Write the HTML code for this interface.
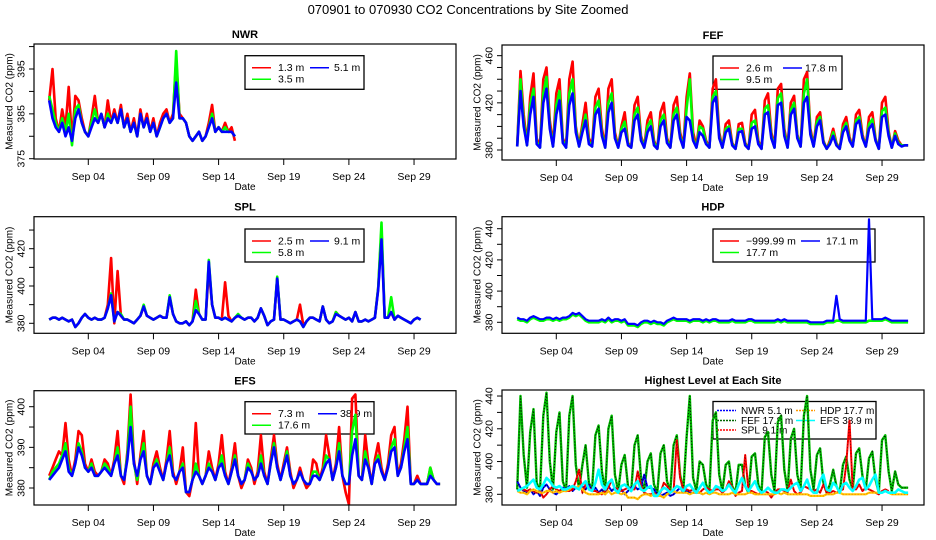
<!DOCTYPE html>
<html><head><meta charset="utf-8"><style>
html,body{margin:0;padding:0;background:#fff;}
svg{display:block;font-family:"Liberation Sans",Arial,sans-serif;}
</style></head><body>
<svg id="chart" width="936" height="540" viewBox="0 0 936 540" xmlns="http://www.w3.org/2000/svg">
<rect x="0" y="0" width="936" height="540" fill="#fff"/>
<text x="468" y="14" text-anchor="middle" font-size="13" fill="#000">070901  to  070930 CO2 Concentrations by Site Zoomed</text>
</svg>
<script>
// ---- data (values every 6 hours starting Sep 1 00:00) ----
const xTickLabels = ["Sep 04","Sep 09","Sep 14","Sep 19","Sep 24","Sep 29"];
const xTickDays = [3,8,13,18,23,28];

const nwrRed = [388,395,384,381, 386,382,391,379, 389,388,384,381, 380,384,389,383, 385,382,388,383, 386,383,387,382, 385,381,384,380, 386,382,385,381, 384,380,383,385, 386,383,385,397, 385,384,383,380, 379,380,381,379, 380,383,387,381, 382,381,383,381, 382,379];
const nwrGreen = [389,386,383,381, 384,381,385,378, 386,387,383,381, 380,383,386,383, 385,382,385,383, 385,383,386,382, 384,381,383,380, 385,382,384,381, 383,380,382,384, 385,383,384,399, 384,384,383,380, 379,380,381,379, 380,382,385,381, 382,381,382,381, 381,380];
const nwrBlue = [388,384,382,381, 383,380,382,379, 384,386,383,381, 380,382,384,383, 385,382,384,383, 385,383,386,382, 384,381,383,380, 385,382,384,381, 383,380,382,384, 385,383,384,392, 384,384,383,380, 379,380,381,379, 380,382,384,381, 382,381,381,381, 381,380];

const fefRed = [384,447,410,385, 425,445,390,383, 440,450,405,384, 428,440,390,383, 440,455,400,384, 402,420,390,384, 425,432,398,383, 432,440,395,383, 400,412,386,382, 418,425,392,383, 405,412,388,381, 412,420,390,382, 418,425,395,383, 425,445,395,383, 405,400,388,382, 432,440,395,382, 402,405,386,381, 402,403,386,381, 410,414,388,381, 422,428,395,383, 432,436,398,383, 420,426,393,383, 440,446,398,384, 408,412,388,381, 388,398,386,381, 402,408,391,383, 410,414,393,383, 408,412,390,381, 420,425,396,382, 396,388,384,384, 384];
const fefGreen = [383,440,404,384, 418,432,387,382, 428,442,400,383, 418,430,388,382, 428,440,398,383, 398,410,387,383, 416,422,394,382, 420,428,392,382, 398,404,385,382, 410,416,390,382, 400,405,386,381, 405,410,388,382, 410,416,392,382, 415,440,390,382, 400,398,386,382, 425,430,392,382, 398,400,385,381, 398,398,385,381, 403,405,386,381, 415,418,392,382, 424,428,395,382, 414,420,392,383, 428,440,395,383, 404,408,387,381, 386,395,385,381, 398,403,389,383, 405,408,391,383, 402,406,389,381, 413,416,394,382, 394,386,384,384, 384];
const fefBlue = [383,430,400,384, 410,425,385,382, 420,432,398,383, 410,422,386,382, 418,428,395,383, 395,405,385,383, 410,415,392,382, 412,420,390,382, 395,398,384,382, 405,410,388,382, 395,400,384,381, 400,405,386,382, 405,410,390,382, 408,405,388,382, 395,392,385,382, 420,425,390,382, 395,398,384,381, 395,396,384,381, 398,400,385,381, 410,412,390,382, 418,420,392,382, 410,415,390,383, 420,425,393,383, 400,405,386,381, 385,392,384,381, 395,400,388,383, 402,405,390,383, 398,402,388,381, 408,410,392,382, 392,385,383,384, 384];

const splRed = [382,383,383,382, 383,382,381,382, 378,380,383,385, 383,382,383,382, 382,383,390,415, 380,408,384,382, 382,381,380,382, 384,389,384,383, 382,383,384,383, 383,394,385,381, 380,380,381,379, 381,398,385,382, 382,409,390,383, 383,382,402,384, 381,383,384,383, 382,383,383,381, 383,388,384,379, 381,382,404,382, 382,381,380,381, 382,390,379,381, 383,383,382,381, 389,382,380,381, 386,384,383,382, 383,381,386,381, 381,382,381,382, 383,399,430,383, 383,386,382,384, 383,382,381,380, 382,383,382];
const splGreen = [382,383,383,382, 383,382,381,382, 378,380,383,385, 383,382,383,382, 382,383,388,396, 381,386,385,382, 382,381,380,382, 384,390,384,383, 382,383,384,383, 383,395,385,381, 380,380,381,379, 381,392,385,382, 382,414,390,383, 383,382,383,382, 381,383,385,383, 382,383,383,381, 383,388,384,379, 381,382,405,382, 382,381,380,381, 382,381,378,381, 383,383,382,381, 389,382,380,381, 386,384,383,382, 383,381,386,381, 381,382,381,382, 383,399,434,383, 383,394,382,384, 383,382,381,380, 382,383,382];
const splBlue = [382,383,383,382, 383,382,381,382, 378,380,383,385, 383,382,383,382, 382,383,388,395, 381,386,384,382, 382,381,380,382, 384,389,384,383, 382,383,384,383, 383,394,385,381, 380,380,381,379, 381,387,385,382, 382,413,390,383, 383,382,383,382, 381,383,384,383, 382,383,383,381, 383,388,384,379, 381,382,404,382, 382,381,380,381, 382,381,378,381, 383,383,382,381, 389,382,380,381, 385,384,383,382, 383,381,386,381, 381,382,381,382, 383,398,425,383, 383,386,382,384, 383,382,381,380, 382,383,382];

const hdpGreen = [382,381,381,380, 382,383,382,381, 381,382,382,381, 382,381,382,382, 383,385,384,385, 383,381,380,380, 380,380,381,380, 382,380,381,381, 380,381,378,378, 378,377,379,380, 380,379,380,379, 379,378,380,381, 382,381,381,381, 381,380,381,381, 381,380,381,380, 381,381,380,380, 380,380,381,380, 380,380,380,381, 381,380,380,380, 380,380,380,380, 381,380,381,380, 380,380,380,380, 380,380,379,379, 379,379,379,380, 380,380,381,381, 380,380,380,380, 380,380,380,380, 381,381,381,381, 381,382,381,380, 380,380,380,380, 380];
const hdpBlue = [383,382,382,381, 383,384,383,382, 382,383,383,382, 383,382,383,383, 384,386,385,386, 384,382,381,381, 381,381,382,381, 383,381,382,382, 381,382,379,379, 379,378,380,381, 381,380,381,380, 380,379,381,382, 383,382,382,382, 382,381,382,382, 382,381,382,381, 382,382,381,381, 381,381,382,381, 381,381,381,382, 382,381,381,381, 381,381,381,381, 382,381,382,381, 381,381,381,381, 381,381,380,380, 380,380,380,381, 381,381,397,382, 381,381,381,381, 381,381,381,381, 446,382,382,382, 382,383,382,381, 381,381,381,381, 381];

const efsRed = [383,385,387,389, 388,396,387,383, 387,394,393,386, 384,387,384,383, 384,387,386,383, 387,394,383,381, 389,403,387,381, 388,394,383,381, 386,389,385,382, 387,394,384,381, 384,390,379,378, 382,396,383,381, 383,389,385,382, 386,393,384,381, 385,391,383,380, 382,387,385,381, 384,393,384,381, 387,393,386,382, 386,390,384,380, 382,385,382,380, 381,387,386,382, 385,393,388,382, 386,395,383,379, 376,402,403,383, 382,393,386,381, 387,391,385,382, 386,393,395,383, 386,392,400,381, 381,383,381,381, 381,385,382,381, 381];
const efsGreen = [382,384,385,386, 388,391,385,383, 386,391,389,385, 384,386,383,383, 384,386,385,383, 386,390,383,382, 388,400,386,382, 387,391,383,381, 385,387,384,382, 386,390,383,382, 384,386,379,379, 382,386,383,381, 383,386,384,382, 385,388,383,381, 384,388,383,381, 382,386,384,382, 383,388,383,381, 386,391,385,382, 385,389,383,381, 382,384,382,381, 381,384,384,382, 384,388,387,382, 385,391,383,381, 381,394,398,383, 382,389,385,381, 386,388,384,382, 385,390,392,383, 385,390,395,381, 381,382,381,381, 381,385,382,381, 381];
const efsBlue = [382,383,384,385, 387,389,384,383, 386,390,388,385, 384,385,383,383, 384,385,384,383, 386,388,383,382, 387,395,386,383, 387,389,383,381, 385,386,384,382, 386,388,383,382, 384,385,379,379, 382,384,383,381, 383,385,384,382, 385,386,383,381, 384,387,383,381, 382,385,384,382, 383,386,383,381, 386,390,385,382, 385,388,383,381, 382,384,382,381, 381,383,383,382, 384,386,387,382, 385,389,383,381, 381,388,392,383, 382,387,385,381, 386,387,384,382, 385,389,390,383, 385,389,392,381, 381,382,381,381, 381,383,382,381, 381];

const NS = "http://www.w3.org/2000/svg";
const svg = document.getElementById("chart");
const PPD = 13.03;
function mk(tag, attrs, parent){const e=document.createElementNS(NS,tag);for(const k in attrs)e.setAttribute(k,attrs[k]);(parent||svg).appendChild(e);return e;}

function panel(p){
  const g = mk("g",{});
  
  
  const yS = v => p.y0px - (v - p.y0v) * p.scale;
  const xS = d => p.xday0 + d * PPD;
  const cid = "clip-"+p.name;
  const cp = mk("clipPath",{id:cid},g);
  mk("rect",{x:p.bx0,y:p.top,width:p.bx1-p.bx0,height:p.bot-p.top},cp);
  const t = mk("text",{x:(p.bx0+p.bx1)/2,y:p.top-6,"text-anchor":"middle","font-size":"11","font-weight":"bold"},g);
  t.textContent = p.title;
  
  
  const L = p.leg;
  const lb = mk("rect",{x:L.x,y:L.y,width:L.w,height:L.h,fill:"#fff",stroke:"#000","stroke-width":"1.3"},g);
  
  
  L.items.forEach((it)=>{
    const ln = mk("line",{x1:it.lx,x2:it.lx+19,y1:it.y,y2:it.y,stroke:it.color,"stroke-width":"1.5","stroke-dasharray":it.dash||"none"},g);
    
    
    const tx = mk("text",{x:it.tx,y:it.y+3.5,"font-size":L.fs||"10.5"},g);
    tx.textContent = it.label;
    
    
  });
  const sg = mk("g",{"clip-path":"url(#"+cid+")"},g);
  p.series.forEach(s=>{
    let d="";
    s.data.forEach((v,i)=>{d+=(i?"L":"M")+xS(i/4).toFixed(1)+","+yS(v).toFixed(1);});
    const pa = mk("path",{d:d,fill:"none",stroke:s.color,"stroke-width":s.w||2.6,"stroke-linejoin":"round"},sg);
    
    
    if(s.dots){
      const pd = mk("path",{d:d,fill:"none",stroke:s.dots,"stroke-width":"1","stroke-dasharray":"1,2"},sg);
      
      
    }
  });
  const bx = mk("rect",{x:p.bx0,y:p.top,width:p.bx1-p.bx0,height:p.bot-p.top,fill:"none",stroke:"#000","stroke-width":"1.2"},g);
  
  
  const ya = mk("line",{x1:p.bx0,x2:p.bx0,y1:yS(p.yticks[0]),y2:yS(p.yticks[p.yticks.length-1]),stroke:"#000"},g);
  
  
  p.yticks.forEach(v=>{
    const tk = mk("line",{x1:p.bx0-5,x2:p.bx0,y1:yS(v),y2:yS(v),stroke:"#000"},g);
    
    
  });
  p.ylabels.forEach(v=>{
    const lx = p.bx0-13, ly = yS(v);
    const tl = mk("text",{x:lx,y:ly,"text-anchor":"middle","font-size":"10.5",transform:"rotate(-90 "+lx+" "+ly+")",dy:"3.5"},g);
    tl.textContent = v;
    
    
  });
  const ymid = (p.top+p.bot)/2, yx = p.bx0-25;
  const yt = mk("text",{x:yx,y:ymid,"text-anchor":"middle","font-size":"10",transform:"rotate(-90 "+yx+" "+ymid+")",dy:"3.5"},g);
  yt.textContent = "Measured CO2 (ppm)";
  
  
  xTickDays.forEach((d,i)=>{
    const tk = mk("line",{x1:xS(d),x2:xS(d),y1:p.bot,y2:p.bot+6,stroke:"#000"},g);
    
    
    const tl = mk("text",{x:xS(d),y:p.bot+21,"text-anchor":"middle","font-size":"10.5"},g);
    tl.textContent = xTickLabels[i];
    
    
  });
  const xt = mk("text",{x:(p.bx0+p.bx1)/2,y:p.bot+31,"text-anchor":"middle","font-size":"10"},g);
  xt.textContent = "Date";
  
  
}

function leg2(x,y,w,h,c2line,c2text,labels,colors){
  return {x:x,y:y,w:w,h:h,items:[
    {lx:x+7,tx:x+33,y:y+12,label:labels[0],color:colors[0]},
    {lx:c2line,tx:c2text,y:y+12,label:labels[1],color:colors[1]},
    {lx:x+7,tx:x+33,y:y+23.5,label:labels[2],color:colors[2]}]};
}
const L=34,R=456,L2=502,R2=924;
panel({name:"nwr",title:"NWR",bx0:L,bx1:R,xday0:49.2,top:44,bot:159,y0v:375,y0px:158.7,scale:4.485,
  yticks:[375,380,385,390,395,400],ylabels:[375,385,395],
  leg:leg2(245,55.7,119,33.6,310,334,["1.3 m","5.1 m","3.5 m"],["#f00","#00f","#0f0"]),
  series:[{data:nwrRed,color:"#f00"},{data:nwrGreen,color:"#0f0"},{data:nwrBlue,color:"#00f"}]});
panel({name:"fef",title:"FEF",bx0:L2,bx1:R2,xday0:517.2,top:45,bot:160,y0v:380,y0px:150,scale:1.179,
  yticks:[380,390,400,410,420,430,440,450,460],ylabels:[380,420,460],
  leg:leg2(713,56,129,33.3,783,805,["2.6 m","17.8 m","9.5 m"],["#f00","#00f","#0f0"]),
  series:[{data:fefRed,color:"#f00"},{data:fefGreen,color:"#0f0"},{data:fefBlue,color:"#00f"}]});
panel({name:"spl",title:"SPL",bx0:L,bx1:R,xday0:49.2,top:216.7,bot:333.3,y0v:380,y0px:323.3,scale:1.865,
  yticks:[380,390,400,410,420,430],ylabels:[380,400,420],
  leg:leg2(245,229,119,33,310,334,["2.5 m","9.1 m","5.8 m"],["#f00","#00f","#0f0"]),
  series:[{data:splRed,color:"#f00"},{data:splGreen,color:"#0f0"},{data:splBlue,color:"#00f"}]});
panel({name:"hdp",title:"HDP",bx0:L2,bx1:R2,xday0:517.2,top:216.7,bot:333.3,y0v:380,y0px:322.3,scale:1.56,
  yticks:[380,390,400,410,420,430,440],ylabels:[380,400,420,440],
  leg:leg2(713,229,162,33,801,826,["\u2212999.99 m","17.1 m","17.7 m"],["#f00","#00f","#0f0"]),
  series:[{data:hdpGreen,color:"#0f0"},{data:hdpBlue,color:"#00f",w:2.2}]});
panel({name:"efs",title:"EFS",bx0:L,bx1:R,xday0:49.2,top:390.7,bot:505,y0v:380,y0px:488,scale:4.065,
  yticks:[380,385,390,395,400],ylabels:[380,390,400],
  leg:leg2(245,401.7,129,32.3,318,340,["7.3 m","38.9 m","17.6 m"],["#f00","#00f","#0f0"]),
  series:[{data:efsRed,color:"#f00"},{data:efsGreen,color:"#0f0"},{data:efsBlue,color:"#00f"}]});
panel({name:"highest",title:"Highest Level at Each Site",bx0:L2,bx1:R2,xday0:517.2,top:390,bot:505,y0v:380,y0px:494.3,scale:1.638,
  yticks:[380,390,400,410,420,430,440],ylabels:[380,400,420,440],
  leg:{x:713,y:401.5,w:163,h:37.5,fs:"10",items:[
    {lx:717,tx:741,y:410.5,label:"NWR  5.1 m",color:"#00f",dash:"2,1"},
    {lx:796,tx:820,y:410.5,label:"HDP  17.7 m",color:"#f90",dash:"2,1"},
    {lx:717,tx:741,y:420.5,label:"FEF  17.8 m",color:"#060",dash:"2,1"},
    {lx:796,tx:820,y:420.5,label:"EFS  38.9 m",color:"#0ff"},
    {lx:717,tx:741,y:430,label:"SPL  9.1 m",color:"#f00",dash:"2,1"}]},
  series:[{data:fefGreen,color:"#0b0",dots:"#000",w:2.4},{data:nwrBlue,color:"#00f",w:2,dots:"#000"},
    {data:splBlue,color:"#f00",w:2,dots:"#800"},{data:hdpGreen,color:"#fc0",w:2.2,dots:"#f60"},
    {data:efsBlue,color:"#0ff",w:2.6}]});
</script>
</body></html>
